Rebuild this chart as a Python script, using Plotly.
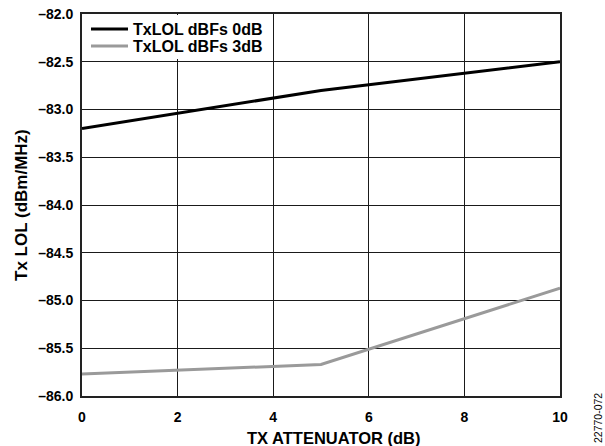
import plotly.graph_objects as go

x_atten = [0, 5, 10]
lol_0db = [-83.2, -82.8, -82.5]
lol_3db = [-85.77, -85.67, -84.87]
x_ticks = [0, 2, 4, 6, 8, 10]
y_ticks = [-86.0, -85.5, -85.0, -84.5, -84.0, -83.5, -83.0, -82.5, -82.0]
y_ticklabels = ["–86.0", "–85.5", "–85.0", "–84.5", "–84.0", "–83.5", "–83.0", "–82.5", "–82.0"]

FONT = "Liberation Sans, Arial, sans-serif"
L, R, T, B = 82, 45, 14, 50
W, H = 605, 446
PH = H - T - B
PW = W - L - R

fig = go.Figure()
fig.add_trace(go.Scatter(x=x_atten, y=lol_0db, mode="lines", name="<b>TxLOL dBFs 0dB</b>",
                         line=dict(color="#000000", width=3), legend="legend"))
fig.add_trace(go.Scatter(x=x_atten, y=lol_3db, mode="lines", name="<b>TxLOL dBFs 3dB</b>",
                         line=dict(color="#9a9a9a", width=3), legend="legend2"))

leg_common = dict(xanchor="left", yanchor="middle", bgcolor="rgba(0,0,0,0)", borderwidth=0,
                  font=dict(family=FONT, size=16, color="black"), itemwidth=37)

fig.update_layout(
    width=W, height=H,
    margin=dict(l=L, r=R, t=T, b=B, autoexpand=False),
    paper_bgcolor="white", plot_bgcolor="white",
    font=dict(family=FONT, size=14, color="black"),
    showlegend=True,
    legend=dict(x=4 / PW, y=1 - (29 - T) / PH, **leg_common),
    legend2=dict(x=4 / PW, y=1 - (46 - T) / PH, **leg_common),
    xaxis=dict(range=[0, 10], tickvals=x_ticks, ticktext=[f"<b>{v}</b>" for v in x_ticks],
               showgrid=True, gridcolor="#1a1a1a", gridwidth=1.3,
               showline=True, linecolor="#222222", linewidth=2, mirror=True,
               zeroline=False, ticks="", ticklabelstandoff=7, automargin=False,
               tickfont=dict(family=FONT, size=14, color="black")),
    yaxis=dict(range=[-86, -82], tickvals=y_ticks, ticktext=[f"<b>{t}</b>" for t in y_ticklabels],
               showgrid=True, gridcolor="#1a1a1a", gridwidth=1.3,
               showline=True, linecolor="#222222", linewidth=2, mirror=True,
               zeroline=False, ticks="", ticklabelstandoff=4, automargin=False,
               tickfont=dict(family=FONT, size=14, color="black")),
)

# white background behind the legend entries
fig.add_shape(type="rect", xref="paper", yref="paper", layer="above",
              x0=1 / PW, x1=(270 - L) / PW, y0=1 - (59 - T) / PH, y1=1 - 1 / PH,
              fillcolor="white", line=dict(width=0))

# axis titles
fig.add_annotation(text="<b>TX ATTENUATOR (dB)</b>", xref="paper", yref="paper",
                   x=(334 - L) / PW, y=0.0, yshift=-(437.5 - (H - B)), showarrow=False,
                   xanchor="center", yanchor="middle",
                   font=dict(family=FONT, size=16.5, color="black"))
fig.add_annotation(text="<b>Tx LOL (dBm/MHz)</b>", xref="paper", yref="paper",
                   x=0.0, xshift=21 - L, y=0.5, showarrow=False, textangle=-90,
                   xanchor="center", yanchor="middle",
                   font=dict(family=FONT, size=17, color="black"))

fig.add_annotation(text="22770-072", xref="paper", yref="paper", x=1.0, y=0.0,
                   xshift=38, yshift=-22, showarrow=False, textangle=-90,
                   xanchor="center", yanchor="middle",
                   font=dict(family=FONT, size=10.5, color="black"))

fig.write_html("out.html", config={"displayModeBar": False},
               post_script="document.body.style.margin='0px';document.body.style.padding='0px';document.body.style.overflow='hidden';")
